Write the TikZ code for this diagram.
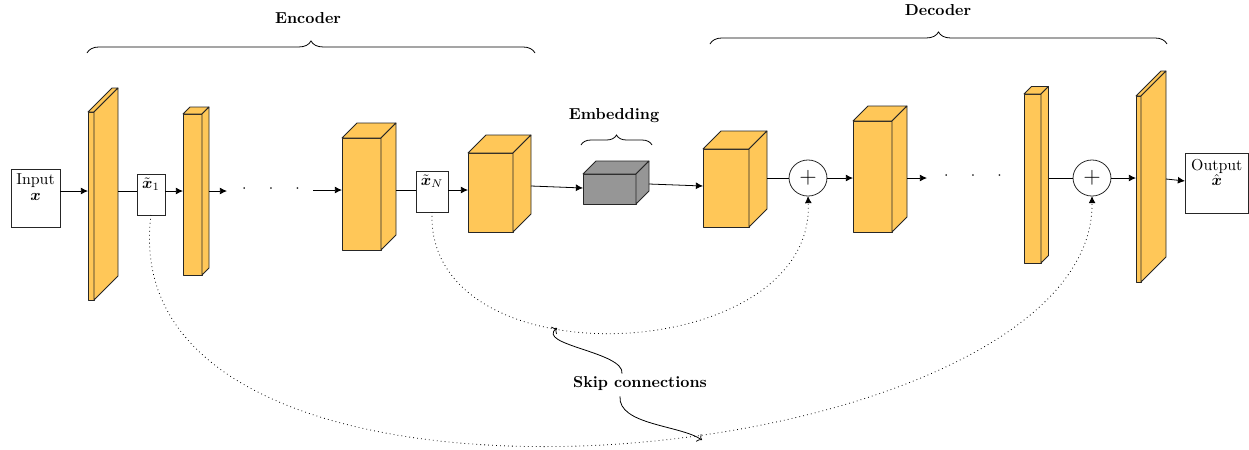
\documentclass[tikz,border=0pt]{standalone}
\usepackage{amsmath}
\usetikzlibrary{fit,calc,arrows.meta,shapes.geometric,decorations.pathreplacing}

\definecolor{layerfill}{RGB}{255,199,88}
\definecolor{embfill}{RGB}{150,150,150}

% A layer drawn as a box: front face (x1,y1)-(x2,y2), receding faces of the given depth
\newcommand{\layerbox}[7]{%
  \node[face, fill=#7, fit={(#2,#3) (#4,#5)}] (#1) {};
  \filldraw[face, fill=#7] (#1.north west) -- ++(#6,-#6) -- ++({#4-#2},0) -- (#1.north east) -- cycle;
  \filldraw[face, fill=#7] (#1.north east) -- ++(#6,-#6) -- ++(0,{#5-#3}) -- (#1.south east) -- cycle;
  \coordinate (#1-back) at ($(#1.east)+(#6,-#6)$);
}

\begin{document}
\begin{tikzpicture}[x=0.63pt, y=-0.63pt,
  face/.style={draw=black!85, line width=0.5pt, inner sep=0pt, outer sep=0pt, line join=round},
  databox/.style={draw=black!85, fill=white, line width=0.5pt, inner sep=0pt, outer sep=0pt},
  toplabel/.style={anchor=north, inner sep=#1, align=center},
  addnode/.style={draw=black!85, ellipse, line width=0.5pt, minimum width=23.9pt, minimum height=22.7pt, inner sep=0pt, outer sep=0pt},
  arr/.style={line width=0.5pt, -{Latex[length=4.5pt,width=4.3pt]}},
  link/.style={line width=0.5pt},
  skip/.style={dotted, line width=0.5pt, -{Latex[length=4.5pt,width=4.3pt]}},
  pointer/.style={line width=0.5pt, ->},
  brace/.style={decorate, decoration={brace, amplitude=#1}, line width=0.5pt},
  heading/.style={font=\bfseries, inner sep=0pt, anchor=base},
  dots/.style={inner sep=0pt}
]
\useasboundingbox (0,0) rectangle (1249,449);

% rails for the horizontal data flow
\coordinate (r1) at (0,191);
\coordinate (r2) at (0,190);
\coordinate (r3) at (0,178);

% encoder
\node[databox, fit={(11,169) (60,227)},
      label={[toplabel=3pt]north:Input\\[-2pt]$\boldsymbol{x}$}] (in) {};
\layerbox{s1}{88}{112}{94}{300}{24}{layerfill}
\node[databox, fit={(137,174) (165,215)},
      label={[toplabel=2pt]north:$\tilde{\boldsymbol{x}}_1$}] (x1) {};
\layerbox{s2}{183}{114}{202}{275}{7}{layerfill}
\node[dots] (dA) at (271,189) {$\cdot$\hspace{14pt}$\cdot$\hspace{14pt}$\cdot$};
\coordinate (dAin) at (227,191);
\coordinate (dAout) at (313,190);
\layerbox{b3}{342}{138}{381}{250}{15}{layerfill}
\node[databox, fit={(416,171) (448,212)},
      label={[toplabel=2pt]north:$\tilde{\boldsymbol{x}}_N$}] (xN) {};
\layerbox{b4}{468}{153}{513}{232}{18}{layerfill}

% bottleneck
\layerbox{em}{583}{174}{636}{204}{13}{embfill}

% decoder
\layerbox{b5}{703}{149}{749}{227}{18}{layerfill}
\node[addnode] (p1) at (808,178) {\Large$+$};
\layerbox{b6}{853}{121}{892}{232}{15}{layerfill}
\node[dots] (dB) at (973,176) {$\cdot$\hspace{14pt}$\cdot$\hspace{14pt}$\cdot$};
\coordinate (dBin) at (927,178);
\layerbox{s7}{1024}{94}{1041}{263}{7.5}{layerfill}
\node[addnode] (p2) at (1092,178) {\Large$+$};
\layerbox{s8}{1136}{96}{1141}{282}{25}{layerfill}
\node[databox, fit={(1185,153) (1248.5,213)},
      label={[toplabel=3.5pt]north:Output\\[-2pt]$\hat{\boldsymbol{x}}$}] (out) {};

% data flow
\draw[arr]  (in.east |- r1) -- (s1.west |- r1);
\draw[link] (s1-back |- r1) -- (x1.west |- r1);
\draw[arr]  (x1.east |- r1) -- (s2.west |- r1);
\draw[arr]  (s2-back |- r1) -- (dAin);
\draw[arr]  (dAout) -- (b3.west |- r2);
\draw[link] (b3-back |- r2) -- (xN.west |- r2);
\draw[arr]  (xN.east |- r2) -- (b4.west |- r2);
\draw[arr]  (b4-back |- 0,186) -- (em.west |- 0,188);
\draw[arr]  (em-back |- 0,184) -- (b5.west |- 0,186);
\draw[link] (b5-back |- r3) -- (p1.west);
\draw[arr]  (p1.east) -- (b6.west |- r3);
\draw[arr]  (b6-back |- r3) -- (dBin);
\draw[link] (s7-back |- r3) -- (p2.west);
\draw[arr]  (p2.east) -- (s8.west |- r3);
\draw[arr]  (s8-back |- 0,179) -- (out.west |- 0,181);

% skip connections
\draw[skip] (x1.south) .. controls (105,572) and (1095,475) .. (p2.south);
\draw[skip] (xN.south) .. controls (425,385) and (815,366) .. (p1.south);

\node[heading] (sk) at (640,387) {Skip connections};
\coordinate (skA) at (557,328);
\coordinate (skB) at (702,440);
\draw[pointer] ($(sk.north)+(-18,-2)$) .. controls (625,352) and (535,345) .. (skA);
\draw[pointer] ($(sk.south)+(-20,6)$) .. controls (618,425) and (680,425) .. (skB);

% groupings
\draw[brace=7.6pt] (87,53) -- (535,53);
\node[heading] (enc) at (308,23) {Encoder};
\draw[brace=7.6pt] (710,44) -- (1167,44);
\node[heading] (dec) at (938,15) {Decoder};
\draw[brace=6.3pt] (581,145) -- (652,145);
\node[heading] (emb) at (614,119) {Embedding};
\end{tikzpicture}
\end{document}
